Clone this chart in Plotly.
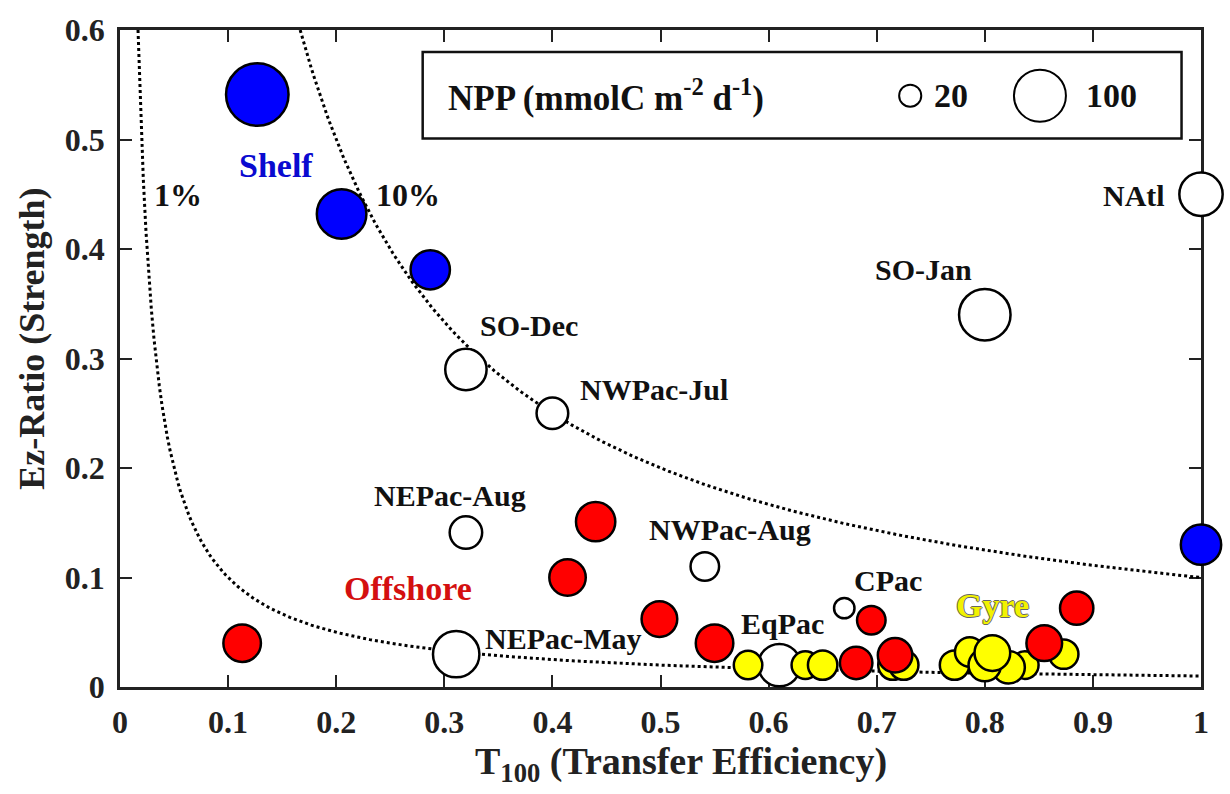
import numpy as np
import plotly.graph_objects as go

# ---------------- data ----------------
shelf_x = [0.127, 0.205, 0.287, 1.0]
shelf_y = [0.541, 0.432, 0.381, 0.13]
shelf_npp = [145, 93, 60, 63]

offshore_x = [0.113, 0.44, 0.414, 0.499, 0.55, 0.695, 0.681, 0.717, 0.855, 0.885]
offshore_y = [0.04, 0.151, 0.10, 0.062, 0.04, 0.061, 0.022, 0.029, 0.04, 0.072]
offshore_npp = [55, 60, 52, 50, 55, 33, 42, 47, 50, 44]

gyre_x = [0.581, 0.634, 0.65, 0.715, 0.725, 0.772, 0.786, 0.837, 0.822, 0.80, 0.807, 0.873]
gyre_y = [0.020, 0.020, 0.020, 0.020, 0.020, 0.020, 0.032, 0.020, 0.018, 0.020, 0.031, 0.030]
gyre_npp = [33, 31, 35, 35, 35, 35, 35, 31, 42, 42, 50, 35]

open_names = ["NAtl", "SO-Jan", "SO-Dec", "NWPac-Jul", "NEPac-Aug",
              "NWPac-Aug", "NEPac-May", "EqPac", "CPac"]
open_x = [1.0, 0.80, 0.32, 0.40, 0.32, 0.541, 0.311, 0.61, 0.67]
open_y = [0.45, 0.34, 0.29, 0.25, 0.141, 0.11, 0.03, 0.02, 0.072]
open_npp = [72, 100, 66, 40, 42, 33, 82, 69, 18]

# label positions for the open (named) stations
open_label_x = [0.938, 0.743, 0.378, 0.494, 0.305, 0.564, 0.41, 0.613, 0.71]
open_label_y = [0.449, 0.381, 0.33, 0.272, 0.175, 0.144, 0.044, 0.058, 0.097]

group_names = ["Shelf", "Offshore", "Gyre"]
group_label_x = [0.144, 0.266, 0.807]
group_label_y = [0.476, 0.09, 0.074]

iso_levels = [0.01, 0.10]          # export efficiency isolines: Ez-ratio * T100
iso_names = ["1%", "10%"]
iso_label_x = [0.054, 0.266]
iso_label_y = [0.449, 0.449]

legend_npp = [20, 100]
legend_x = [0.731, 0.851]
legend_y = [0.54, 0.54]

x_ticks = [0, 0.1, 0.2, 0.3, 0.4, 0.5, 0.6, 0.7, 0.8, 0.9, 1]
x_ticklabels = ["0", "0.1", "0.2", "0.3", "0.4", "0.5", "0.6", "0.7", "0.8", "0.9", "1"]
y_ticks = [0, 0.1, 0.2, 0.3, 0.4, 0.5, 0.6]
y_ticklabels = ["0", "0.1", "0.2", "0.3", "0.4", "0.5", "0.6"]

x_title = "T<sub>100</sub> (Transfer Efficiency)"
y_title = "Ez-Ratio (Strength)"

# ---------------- style ----------------
FONT = "Liberation Serif"
LW = 2.5
K = 5.4  # px diameter per sqrt(NPP)


def sizes(npp, lw=LW):
    return [K * np.sqrt(v) - lw for v in npp]


fig = go.Figure()

# isolines
for lev in iso_levels:
    xs = np.linspace(lev / 0.6, 1.0, 400)
    fig.add_trace(go.Scatter(x=xs, y=lev / xs, mode="lines",
                             line=dict(color="black", width=3, dash="dot"),
                             hoverinfo="skip", showlegend=False))


def marker(npp, color, lw=LW):
    return dict(size=sizes(npp, lw), color=color, opacity=1,
                line=dict(color="black", width=lw))


# open (named) stations
fig.add_trace(go.Scatter(x=open_x, y=open_y, mode="markers", cliponaxis=False,
                         marker=marker(open_npp, "white"),
                         text=open_names, showlegend=False))
# gyre
fig.add_trace(go.Scatter(x=gyre_x, y=gyre_y, mode="markers", cliponaxis=False,
                         marker=marker(gyre_npp, "#ffff00"), showlegend=False))
# offshore
fig.add_trace(go.Scatter(x=offshore_x, y=offshore_y, mode="markers", cliponaxis=False,
                         marker=marker(offshore_npp, "#ff0000"), showlegend=False))
# shelf
fig.add_trace(go.Scatter(x=shelf_x, y=shelf_y, mode="markers", cliponaxis=False,
                         marker=marker(shelf_npp, "#0000ff"), showlegend=False))

# size legend box
fig.add_shape(type="rect", xref="x", yref="y", x0=0.280, x1=0.982, y0=0.501, y1=0.58,
              line=dict(color="#111", width=2.5), fillcolor="white", layer="below")
fig.add_trace(go.Scatter(x=legend_x, y=legend_y, mode="markers", cliponaxis=False,
                         marker=marker(legend_npp, "white", 2),
                         showlegend=False, hoverinfo="skip"))
fig.add_annotation(x=0.3016, y=0.5405, xref="x", yref="y", xanchor="left", yanchor="middle",
                   text="NPP (mmolC m<sup>-2</sup> d<sup>-1</sup>)", showarrow=False,
                   font=dict(family=FONT, size=35, color="#111", weight="bold"))
legend_text_x = [0.751, 0.892]
for v, lx in zip(legend_npp, legend_text_x):
    fig.add_annotation(x=lx, y=0.5405, xref="x", yref="y", xanchor="left", yanchor="middle",
                       text=str(v), showarrow=False,
                       font=dict(family=FONT, size=34, color="#111", weight="bold"))

# labels
lab_font = dict(family=FONT, size=30, color="#111", weight="bold")
for n, lx, ly in zip(open_names, open_label_x, open_label_y):
    fig.add_annotation(x=lx, y=ly, xref="x", yref="y", text=n, showarrow=False, font=lab_font)
for n, lx, ly in zip(iso_names, iso_label_x, iso_label_y):
    fig.add_annotation(x=lx, y=ly, xref="x", yref="y", text=n, showarrow=False,
                       font=dict(family=FONT, size=32, color="#111", weight="bold"))

group_colors = ["#0a0ad0", "#d41010", "#f2f200"]
for n, lx, ly, c in zip(group_names, group_label_x, group_label_y, group_colors):
    f = dict(family=FONT, size=34, color=c, weight="bold")
    if n == "Gyre":
        f["shadow"] = "1px 0 0 #666, -1px 0 0 #666, 0 1px 0 #666, 0 -1px 0 #666"
    fig.add_annotation(x=lx, y=ly, xref="x", yref="y", text=n, showarrow=False, font=f)

# axis titles (placed as annotations to match the reference's offsets)
fig.add_annotation(x=0.519, y=-0.117, xref="paper", yref="paper", text=x_title,
                   showarrow=False, xanchor="center", yanchor="middle",
                   font=dict(family=FONT, size=38, color="#222", weight="bold"))
fig.add_annotation(x=-0.0814, y=0.530, xref="paper", yref="paper", text=y_title,
                   showarrow=False, xanchor="center", yanchor="middle", textangle=-90,
                   font=dict(family=FONT, size=36, color="#222", weight="bold"))

axis_common = dict(showline=True, linecolor="#222", linewidth=2.5, mirror="ticks",
                   ticks="inside", ticklen=12, tickwidth=2, tickcolor="#222",
                   showgrid=False, zeroline=False, layer="below traces",
                   tickfont=dict(family=FONT, size=32, color="#222", weight="bold"))

fig.update_xaxes(range=[0, 1], tickvals=x_ticks, ticktext=x_ticklabels,
                 ticklabelstandoff=5, **axis_common)
fig.update_yaxes(range=[0, 0.6], tickvals=y_ticks, ticktext=y_ticklabels,
                 ticklabelstandoff=6, **axis_common)

fig.update_layout(width=1230, height=794, margin=dict(l=120, r=29, t=19, b=107),
                  paper_bgcolor="white", plot_bgcolor="white", showlegend=False)

fig.write_html("out.html")
